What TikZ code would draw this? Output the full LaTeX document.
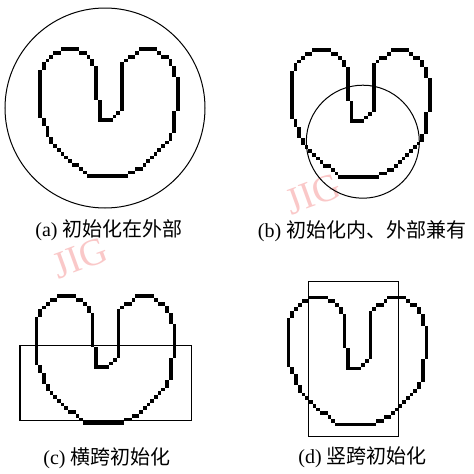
\documentclass[tikz,border=0pt]{standalone}
\usepackage{fontspec}
\setmainfont{Liberation Serif}
\newfontfamily\cjk{Noto Sans CJK SC}
\definecolor{wmark}{RGB}{250,200,200}
\def\cellsz{3.73}
\newcommand\cellrun[4]{%
  \pgfmathtruncatemacro\nn{max(abs(#3-#1),abs(#4-#2))}%
  \foreach \k in {1,...,\nn}{%
    \pgfmathsetmacro\ci{round(#1+(#3-#1)*\k/\nn)}%
    \pgfmathsetmacro\cj{round(#2+(#4-#2)*\k/\nn)}%
    \fill ({(\ci-0.5)*\cellsz},{(\cj-0.5)*\cellsz}) rectangle ++(\cellsz,\cellsz);
  }}
\newcommand\drawshape{%
  \xdef\lastI{16}\xdef\lastJ{19}%
  \foreach \x/\y in {19/19,20/18,21/17,22/16,22/4,23/3,24/2,25/2,26/1,27/0,31/0,32/1,33/2,34/2,35/3,35/4,36/5,36/7,37/8,37/16,36/17,36/22,35/23,35/24,34/25,28/31,27/32,26/32,25/33,24/33,23/34,13/34,12/33,11/32,10/31,9/31,4/26,3/25,3/24,2/23,2/21,1/20,1/19,0/18,0/6,1/5,1/4,2/3,3/2,4/1,5/1,6/0,10/0,11/1,12/1,13/2,14/3,14/4,15/5,15/13,16/14,16/19}{%
    \cellrun{\lastI}{\lastJ}{\x}{\y}\xdef\lastI{\x}\xdef\lastJ{\y}}}
\tikzset{
  caption/.style={font=\fontsize{20}{24}\selectfont, inner sep=0pt},
  wm/.style={text=wmark, font=\fontsize{38}{42}\selectfont, rotate=20, inner sep=0pt},
  outline/.style={draw=black, line width=1.1pt}
}
\begin{document}
\begin{tikzpicture}[x=1pt,y=-1pt]
\useasboundingbox[fill=white] (0,0) rectangle (474,474);
% watermarks
\node[wm] (wb) at (313,194) {JIG};
\node[wm] (wc) at (80,258) {JIG};
% panel (a)
\begin{scope}[shift={(40,49.3)}]\drawshape\end{scope}
\draw[outline, line width=1pt] (105,108) circle[radius=100];
% panel (b)
\begin{scope}[shift={(291.7,50.3)}]\drawshape\end{scope}
\draw[outline, line width=1pt] (362.8,141.7) circle[radius=56.5];
% panel (c)
\begin{scope}[shift={(36.5,296.3)}]\drawshape\end{scope}
\draw[outline] (20,345.7) rectangle (191.7,420.3);
% panel (d)
\begin{scope}[shift={(288.5,297.6)}]\drawshape\end{scope}
\draw[outline] (308.7,281.3) rectangle (398.7,436.3);
% captions
\node[caption] (ca) at (109,230) {(a) {\cjk 初始化在外部}};
\node[caption] (cb) at (362,231) {(b) {\cjk 初始化内、外部兼有}};
\node[caption] (cc) at (107,458) {(c) {\cjk 横跨初始化}};
\node[caption] (cd) at (362.5,457) {(d) {\cjk 竖跨初始化}};
\end{tikzpicture}
\end{document}
